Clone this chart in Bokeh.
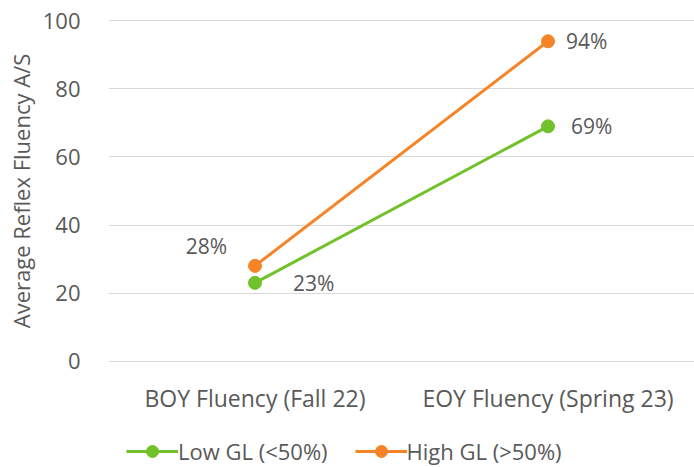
from bokeh.plotting import figure
from bokeh.layouts import column
from bokeh.models import Range1d, FactorRange, Legend, LegendItem, ColumnDataSource, FixedTicker
from bokeh.core.properties import value
from bokeh.embed import file_html
from bokeh.resources import INLINE

categories = ["BOY Fluency (Fall 22)", "EOY Fluency (Spring 23)"]
low_gl = [23, 69]
high_gl = [28, 94]
low_labels = ["23%", "69%"]
high_labels = ["28%", "94%"]
series_names = ["Low GL (<50%)", "High GL (>50%)"]
y_ticks = [0, 20, 40, 60, 80, 100]

GREEN = "#70c12a"
ORANGE = "#f58426"
TEXT = "#595959"
FONT = "Open Sans"

p = figure(frame_width=586, frame_height=347, output_backend="svg", toolbar_location=None,
           x_range=FactorRange(*categories, range_padding=0),
           y_range=Range1d(-1, 101),
           min_border_left=108, min_border_top=17, min_border_right=0, min_border_bottom=60)
p.outline_line_color = None
p.xgrid.grid_line_color = None
p.ygrid.grid_line_color = "#d9d9d9"
p.ygrid.grid_line_width = 1
p.yaxis.ticker = FixedTicker(ticks=y_ticks)

for ax in (p.xaxis[0], p.yaxis[0]):
    ax.axis_line_color = None
    ax.major_tick_line_color = None
    ax.minor_tick_line_color = None
    ax.major_tick_out = 0
    ax.major_tick_in = 0
    ax.major_label_text_font = FONT
    ax.major_label_text_color = TEXT
p.yaxis.major_label_text_font_size = "22px"
p.xaxis.major_label_text_font_size = "23px"
p.yaxis.major_label_standoff = 28
p.xaxis.major_label_standoff = 17
p.yaxis.axis_label = "Average Reflex Fluency A/S"
p.yaxis.axis_label_text_font = FONT
p.yaxis.axis_label_text_font_size = "22px"
p.yaxis.axis_label_text_font_style = "normal"
p.yaxis.axis_label_text_color = TEXT
p.yaxis.axis_label_standoff = 4

src_low = ColumnDataSource(dict(x=categories, y=low_gl, t=low_labels,
                                dx=[38, 23], align=["left", "left"]))
src_high = ColumnDataSource(dict(x=categories, y=high_gl, t=high_labels,
                                 dx=[-28, 18], dy=[-20, 0], align=["right", "left"]))

p.line("x", "y", source=src_low, line_color=GREEN, line_width=3)
p.scatter("x", "y", source=src_low, size=13, fill_color=GREEN, line_color=GREEN)
p.line("x", "y", source=src_high, line_color=ORANGE, line_width=3)
p.scatter("x", "y", source=src_high, size=13, fill_color=ORANGE, line_color=ORANGE)

p.text("x", "y", text="t", source=src_low, x_offset="dx", y_offset=0,
       text_align="align", text_baseline="middle", text_font=value(FONT),
       text_font_size="21px", text_color=TEXT)
p.text("x", "y", text="t", source=src_high, x_offset="dx", y_offset="dy",
       text_align="align", text_baseline="middle", text_font=value(FONT),
       text_font_size="21px", text_color=TEXT)

# legend strip below the chart (series drawn off-view; only the legend shows)
pl = figure(width=694, height=43, output_backend="svg", toolbar_location=None,
            x_range=FactorRange(*categories, range_padding=0), y_range=Range1d(1000, 1001),
            min_border=0, outline_line_color=None)
pl.axis.visible = False
pl.grid.visible = False
ll1 = pl.line(categories, low_gl, line_color=GREEN, line_width=3)
lc1 = pl.scatter(categories, low_gl, size=13, fill_color=GREEN, line_color=GREEN)
ll2 = pl.line(categories, high_gl, line_color=ORANGE, line_width=3)
lc2 = pl.scatter(categories, high_gl, size=13, fill_color=ORANGE, line_color=ORANGE)
legend = Legend(items=[LegendItem(label=series_names[0], renderers=[ll1, lc1]),
                       LegendItem(label=series_names[1], renderers=[ll2, lc2])],
                orientation="horizontal", location=(18, 1),
                border_line_color=None, background_fill_alpha=0,
                label_text_font=FONT, label_text_font_size="22px",
                label_text_color=TEXT, glyph_width=52, glyph_height=30,
                label_standoff=0, spacing=27, padding=0, margin=0)
pl.add_layout(legend, "center")

layout = column(p, pl, spacing=0)
open("out.html", "w").write(file_html(layout, INLINE))
